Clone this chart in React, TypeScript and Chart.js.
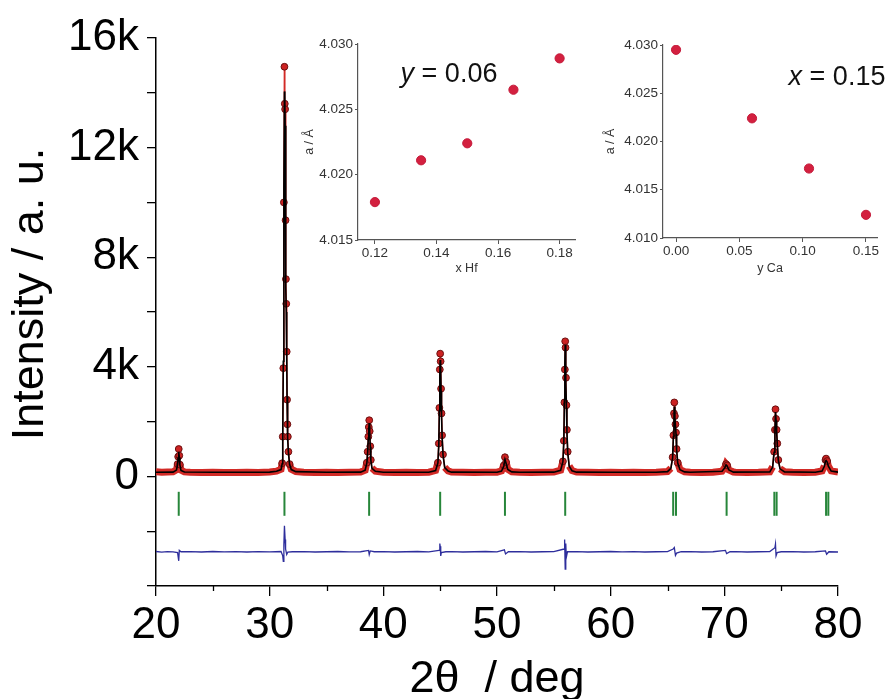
import React, { useEffect, useRef } from 'react';
import { Chart, registerables } from 'chart.js';

Chart.register(...registerables);

const FONT = '"Liberation Sans", Arial, Helvetica, sans-serif';

// ---------- main Rietveld pattern (2θ, intensity) ----------
const observedPattern: [number, number][] = [
  [20.0, 170], [20.5, 150], [21.0, 160], [21.5, 170], [21.8, 240], [21.9, 450], [21.95, 720], [22.0, 1000],
  [22.05, 760], [22.1, 430], [22.2, 230], [22.5, 165], [23, 150], [24, 140], [25, 150], [26, 145], [27, 140],
  [28, 150], [29, 145], [30, 160], [30.6, 190], [31.0, 260], [31.1, 480], [31.15, 1450], [31.2, 3950],
  [31.25, 10000], [31.3, 14950], [31.33, 13600], [31.36, 13400], [31.4, 9350], [31.43, 7200], [31.46, 6300],
  [31.5, 4550], [31.53, 2800], [31.56, 1900], [31.6, 1450], [31.65, 900], [31.75, 450], [31.9, 260], [32.3, 180],
  [33, 150], [34, 145], [35, 150], [36, 140], [37, 150], [38, 160], [38.4, 230], [38.55, 500], [38.62, 900],
  [38.68, 1450], [38.72, 1800], [38.76, 2050], [38.8, 1650], [38.85, 1100], [38.9, 600], [39.0, 300], [39.3, 190],
  [40, 150], [41, 145], [42, 150], [43, 140], [44, 155], [44.6, 220], [44.8, 500], [44.88, 1200], [44.93, 2500],
  [44.97, 3900], [45.0, 4480], [45.04, 4200], [45.08, 3200], [45.12, 2300], [45.17, 1500], [45.25, 800], [45.4, 330],
  [45.7, 200], [46, 160], [47, 150], [48, 145], [49, 150], [50, 155], [50.4, 200], [50.6, 400], [50.7, 700],
  [50.8, 520], [50.95, 260], [51.3, 170], [52, 150], [53, 145], [54, 150], [55, 160], [55.6, 230], [55.8, 550],
  [55.88, 1300], [55.93, 2700], [55.97, 3900], [56.0, 4930], [56.03, 4700], [56.07, 3600], [56.11, 2600],
  [56.15, 1700], [56.22, 900], [56.35, 380], [56.6, 210], [57, 160], [58, 150], [59, 145], [60, 150], [61, 140],
  [62, 150], [63, 145], [64, 155], [65, 180], [65.3, 300], [65.45, 700], [65.52, 1500], [65.57, 2300], [65.6, 2700],
  [65.65, 2200], [65.7, 1900], [65.75, 1600], [65.8, 1000], [65.9, 500], [66.1, 250], [66.5, 170], [67, 150],
  [68, 145], [69, 150], [69.8, 190], [70.05, 330], [70.15, 450], [70.25, 400], [70.4, 240], [70.8, 160], [71, 150],
  [72, 145], [73, 150], [74, 170], [74.25, 350], [74.38, 900], [74.45, 1700], [74.5, 2450], [74.55, 2100],
  [74.6, 1700], [74.66, 1200], [74.75, 600], [74.9, 280], [75.3, 170], [76, 150], [77, 145], [78, 150],
  [78.6, 200], [78.8, 380], [78.9, 600], [78.95, 650], [79.05, 560], [79.15, 380], [79.4, 200], [80, 160],
];

const calculatedPattern: [number, number][] = [
  [20, 150], [21.5, 155], [21.8, 230], [21.9, 430], [21.95, 680], [22.0, 900], [22.05, 700], [22.1, 420],
  [22.2, 220], [22.5, 160], [25, 150], [30, 155], [30.6, 185], [31.0, 250], [31.1, 460], [31.15, 1400],
  [31.2, 4200], [31.25, 10500], [31.3, 14050], [31.33, 13900], [31.36, 12800], [31.4, 9000], [31.43, 6900],
  [31.46, 6000], [31.5, 4400], [31.53, 2900], [31.56, 1850], [31.6, 1400], [31.65, 880], [31.75, 440], [31.9, 250],
  [32.3, 175], [35, 150], [38, 155], [38.4, 225], [38.55, 490], [38.62, 880], [38.68, 1400], [38.72, 1750],
  [38.76, 1950], [38.8, 1600], [38.85, 1080], [38.9, 590], [39.0, 295], [39.3, 185], [40, 150], [44, 152],
  [44.6, 215], [44.8, 490], [44.88, 1150], [44.93, 2400], [44.97, 3700], [45.0, 4250], [45.04, 4050], [45.08, 3100],
  [45.12, 2250], [45.17, 1450], [45.25, 780], [45.4, 320], [45.7, 195], [46, 155], [50, 152], [50.4, 195],
  [50.6, 380], [50.7, 620], [50.8, 480], [50.95, 250], [51.3, 165], [52, 150], [55, 155], [55.6, 225], [55.8, 540],
  [55.88, 1280], [55.93, 2800], [55.97, 4100], [56.0, 4800], [56.03, 4750], [56.07, 3500], [56.11, 2500],
  [56.15, 1650], [56.22, 880], [56.35, 370], [56.6, 205], [57, 155], [60, 150], [64, 152], [65, 175], [65.3, 295],
  [65.45, 680], [65.52, 1450], [65.57, 2200], [65.6, 2550], [65.65, 2150], [65.7, 1850], [65.75, 1550], [65.8, 980],
  [65.9, 490], [66.1, 245], [66.5, 165], [67, 150], [69.8, 185], [70.05, 320], [70.15, 420], [70.25, 380],
  [70.4, 235], [70.8, 155], [74, 165], [74.25, 340], [74.38, 880], [74.45, 1650], [74.5, 2350], [74.55, 2050],
  [74.6, 1650], [74.66, 1150], [74.75, 590], [74.9, 275], [75.3, 165], [78, 150], [78.6, 195], [78.8, 370],
  [78.9, 560], [78.95, 580], [79.05, 520], [79.15, 370], [79.4, 195], [80, 155],
];

const differencePattern: [number, number][] = [
  [20, -2740], [20.5, -2760], [21, -2745], [21.5, -2755], [21.9, -2780], [22.0, -3080], [22.05, -2700], [22.2, -2750],
  [23, -2745], [24, -2760], [25, -2740], [26, -2755], [27, -2745], [28, -2760], [29, -2745], [30, -2755],
  [31.0, -2740], [31.15, -2900], [31.2, -3100], [31.25, -2500], [31.3, -1800], [31.36, -2300], [31.4, -2650],
  [31.5, -2850], [31.6, -2760], [32, -2750], [33, -2745], [34, -2760], [35, -2750], [36, -2740], [37, -2755],
  [38, -2750], [38.7, -2700], [38.76, -2850], [38.85, -2720], [39.2, -2750], [40, -2745], [41, -2760], [42, -2750],
  [43, -2740], [44, -2755], [44.9, -2700], [44.97, -2450], [45.0, -2550], [45.05, -2900], [45.1, -2780],
  [45.5, -2750], [46, -2745], [47, -2760], [48, -2750], [49, -2740], [50, -2755], [50.65, -2680], [50.75, -2830],
  [51, -2750], [52, -2745], [53, -2760], [54, -2750], [55, -2745], [55.9, -2650], [55.95, -2300], [56.0, -3380],
  [56.05, -2450], [56.1, -2950], [56.2, -2750], [57, -2745], [58, -2760], [59, -2750], [60, -2740], [61, -2755],
  [62, -2745], [63, -2760], [64, -2750], [65, -2745], [65.5, -2650], [65.6, -2600], [65.7, -2880], [65.8, -2800],
  [66.2, -2750], [67, -2745], [68, -2760], [69, -2750], [70.1, -2700], [70.2, -2820], [70.5, -2750], [71, -2745],
  [72, -2760], [73, -2750], [74, -2745], [74.45, -2600], [74.5, -2470], [74.55, -2900], [74.65, -2780], [75, -2750],
  [76, -2745], [77, -2760], [78, -2750], [78.9, -2720], [79.0, -2840], [79.2, -2750], [80, -2760],
];

const braggPositions = [22.0, 31.3, 38.75, 45.0, 50.7, 56.0, 65.5, 65.75, 70.2, 74.4, 74.6, 78.95, 79.15];
const braggLevel = -1000;

// axis tick values
const xMinorTicks = [25, 35, 45, 55, 65, 75];

// ---------- insets ----------
const hfContent = [0.12, 0.135, 0.15, 0.165, 0.18];
const hfLattice = [4.0179, 4.0211, 4.0224, 4.0265, 4.0289];
const caContent = [0.0, 0.06, 0.105, 0.15];
const caLattice = [4.0295, 4.0224, 4.0172, 4.0124];

const toXY = (pairs: [number, number][]) => pairs.map(([x, y]) => ({ x, y }));

function MainChart() {
  const ref = useRef<HTMLCanvasElement | null>(null);
  useEffect(() => {
    if (!ref.current) return;
    const extras = {
      id: 'extras',
      afterDraw(chart: any) {
        const ctx = chart.ctx;
        const xs = chart.scales.x;
        ctx.save();
        // short minor ticks on the 2θ axis
        ctx.strokeStyle = '#000';
        ctx.lineWidth = 1.3;
        xMinorTicks.forEach((v) => {
          const px = Math.round(xs.getPixelForValue(v)) + 0.5;
          ctx.beginPath();
          ctx.moveTo(px, xs.top);
          ctx.lineTo(px, xs.top + 5);
          ctx.stroke();
        });
        // y-axis title
        ctx.translate(31, 294);
        ctx.rotate(-Math.PI / 2);
        ctx.fillStyle = '#000';
        ctx.font = `45px ${FONT}`;
        ctx.textAlign = 'center';
        ctx.textBaseline = 'middle';
        ctx.fillText('Intensity / a. u.', 0, 0);
        ctx.restore();
      },
    };
    const chart = new Chart(ref.current, {
      type: 'scatter',
      data: {
        datasets: [
          {
            label: 'calc',
            data: toXY(calculatedPattern),
            showLine: true,
            borderColor: '#000000',
            borderWidth: 1.6,
            pointRadius: 0,
            order: 0,
          },
          {
            label: 'obs',
            data: toXY(observedPattern),
            showLine: true,
            borderColor: '#d22a26',
            borderWidth: 6,
            segment: {
              borderWidth: (c: any) => {
                const a = observedPattern[c.p0DataIndex][1];
                const b = observedPattern[c.p1DataIndex][1];
                return Math.max(a, b) < 600 ? 7 : 1.5;
              },
            },
            pointRadius: (c: any) => (observedPattern[c.dataIndex][1] > 380 ? 3.4 : 0),
            pointBackgroundColor: '#cc2222',
            pointBorderColor: '#6a1010',
            pointBorderWidth: 1,
            order: 1,
          },
          {
            label: 'diff',
            data: toXY(differencePattern),
            showLine: true,
            borderColor: '#2e2e9c',
            borderWidth: 1.3,
            pointRadius: 0,
            order: 2,
          },
          {
            label: 'bragg',
            data: braggPositions.map((x) => ({ x, y: braggLevel })),
            showLine: false,
            pointStyle: 'line',
            rotation: 90,
            pointRadius: 12,
            borderColor: '#27863a',
            borderWidth: 2,
            order: 3,
          },
        ],
      },
      options: {
        responsive: false,
        animation: false,
        events: [],
        layout: { padding: { left: 0, top: 38, right: 53, bottom: 0 } },
        plugins: { legend: { display: false }, tooltip: { enabled: false } },
        scales: {
          x: {
            type: 'linear',
            min: 20,
            max: 80,
            afterFit: (s: any) => { s.height = 113; },
            grid: {
              display: true, drawOnChartArea: false, drawTicks: true, tickLength: 10, lineWidth: 1.3,
              color: (c: any) => (c.tick && Number(c.tick.value) % 10 === 0 ? '#000' : 'rgba(0,0,0,0)'),
            },
            border: { display: true, color: '#000', width: 1.5 },
            ticks: {
              stepSize: 5,
              includeBounds: false,
              autoSkip: false,
              maxRotation: 0,
              padding: 3,
              color: '#000',
              font: { family: FONT, size: 44 },
              callback: (v: any) => (Number(v) % 10 === 0 ? String(v) : ''),
            },
            title: {
              display: true,
              text: '2θ  / deg',
              color: '#000',
              font: { family: FONT, size: 45, lineHeight: 0.85 },
              padding: { top: 0, bottom: 0 },
            },
          },
          y: {
            type: 'linear',
            min: -4000,
            max: 16000,
            afterFit: (s: any) => { s.width = 156; },
            grid: { display: true, drawOnChartArea: false, drawTicks: true, tickLength: 9, color: '#000', lineWidth: 1.3 },
            border: { display: true, color: '#000', width: 1.5 },
            ticks: {
              stepSize: 2000,
              includeBounds: false,
              autoSkip: false,
              padding: 8,
              color: '#000',
              font: { family: FONT, size: 44 },
              callback: (v: any) => {
                const n = Number(v);
                if (n < 0 || n % 4000 !== 0) return '';
                return n === 0 ? '0' : `${n / 1000}k`;
              },
            },
            title: { display: false },
          },
        },
      },
      plugins: [extras],
    } as any);
    return () => chart.destroy();
  }, []);
  return <canvas ref={ref} width={891} height={699} style={{ position: 'absolute', left: 0, top: 0 }} />;
}

type InsetProps = {
  left: number; top: number; width: number; height: number;
  xs: number[]; ys: number[];
  xMin: number; xMax: number; xStep: number; xDigits: number;
  yMin: number; yMax: number;
  pad: { left: number; top: number; right: number; bottom: number };
  yTitlePad: number;
  xTitle: string;
  noteVar: string; noteRest: string; noteX: number; noteY: number;
};

function Inset(p: InsetProps) {
  const ref = useRef<HTMLCanvasElement | null>(null);
  useEffect(() => {
    if (!ref.current) return;
    const notePlugin = {
      id: 'note',
      afterDraw(chart: any) {
        const ctx = chart.ctx;
        const a = chart.chartArea;
        ctx.save();
        ctx.fillStyle = '#111';
        ctx.textBaseline = 'alphabetic';
        ctx.textAlign = 'left';
        ctx.font = `italic 27px ${FONT}`;
        const w1 = ctx.measureText(p.noteVar).width;
        ctx.font = `27px ${FONT}`;
        const w2 = ctx.measureText(p.noteRest).width;
        const x0 = a.left + p.noteX - (w1 + w2) / 2;
        const y0 = a.top + p.noteY;
        ctx.font = `italic 27px ${FONT}`;
        ctx.fillText(p.noteVar, x0, y0);
        ctx.font = `27px ${FONT}`;
        ctx.fillText(p.noteRest, x0 + w1, y0);
        ctx.restore();
      },
    };
    const chart = new Chart(ref.current, {
      type: 'scatter',
      data: {
        datasets: [
          {
            data: p.xs.map((x, i) => ({ x, y: p.ys[i] })),
            pointRadius: 4.6,
            pointBackgroundColor: '#d3203f',
            pointBorderColor: '#c41a3a',
            pointBorderWidth: 1,
            showLine: false,
          },
        ],
      },
      options: {
        responsive: false,
        animation: false,
        events: [],
        layout: { padding: { left: 0, top: p.pad.top, right: p.pad.right, bottom: 0 } },
        plugins: { legend: { display: false }, tooltip: { enabled: false } },
        scales: {
          x: {
            type: 'linear',
            min: p.xMin,
            max: p.xMax,
            afterFit: (s: any) => { s.height = p.pad.bottom; },
            grid: { display: true, drawOnChartArea: false, tickLength: 4, color: '#555', lineWidth: 1 },
            border: { display: true, color: '#555', width: 1.2 },
            ticks: {
              stepSize: p.xStep,
              includeBounds: false,
              autoSkip: false,
              maxRotation: 0,
              padding: 1,
              color: '#333',
              font: { family: FONT, size: 13.5 },
              callback: (v: any) => Number(v).toFixed(p.xDigits),
            },
            title: {
              display: true,
              text: p.xTitle,
              color: '#333',
              font: { family: FONT, size: 12.5, lineHeight: 1.0 },
              padding: { top: 0, bottom: 15 },
            },
          },
          y: {
            type: 'linear',
            min: p.yMin,
            max: p.yMax,
            afterFit: (s: any) => { s.width = p.pad.left; },
            grid: { display: true, drawOnChartArea: false, tickLength: 3, color: '#555', lineWidth: 1 },
            border: { display: true, color: '#555', width: 1.2 },
            ticks: {
              stepSize: 0.005,
              includeBounds: false,
              autoSkip: false,
              padding: 2,
              color: '#333',
              font: { family: FONT, size: 13.5 },
              callback: (v: any) => Number(v).toFixed(3),
            },
            title: {
              display: true,
              text: 'a / Å',
              color: '#333',
              font: { family: FONT, size: 12.5, lineHeight: 1.0 },
              padding: { top: p.yTitlePad, bottom: 0 },
            },
          },
        },
      },
      plugins: [notePlugin],
    } as any);
    return () => chart.destroy();
  }, []);
  return (
    <canvas
      ref={ref}
      width={p.width}
      height={p.height}
      style={{ position: 'absolute', left: p.left, top: p.top }}
    />
  );
}

export default function App() {
  return (
    <div style={{ position: 'fixed', left: 0, top: 0, width: 891, height: 699, background: '#fff', overflow: 'hidden' }}>
      <MainChart />
      <Inset
        left={290} top={20} width={300} height={270}
        xs={hfContent} ys={hfLattice}
        xMin={0.1145} xMax={0.185} xStep={0.02} xDigits={2}
        yMin={4.015} yMax={4.03}
        pad={{ left: 68, top: 24, right: 15, bottom: 50 }}
        yTitlePad={13}
        xTitle="x Hf"
        noteVar="y" noteRest=" = 0.06" noteX={91} noteY={38}
      />
      <Inset
        left={595} top={20} width={296} height={270}
        xs={caContent} ys={caLattice}
        xMin={-0.0103} xMax={0.1587} xStep={0.05} xDigits={2}
        yMin={4.01} yMax={4.03}
        pad={{ left: 68, top: 25, right: 14, bottom: 52 }}
        yTitlePad={9}
        xTitle="y Ca"
        noteVar="x" noteRest=" = 0.15" noteX={174} noteY={40}
      />
    </div>
  );
}
